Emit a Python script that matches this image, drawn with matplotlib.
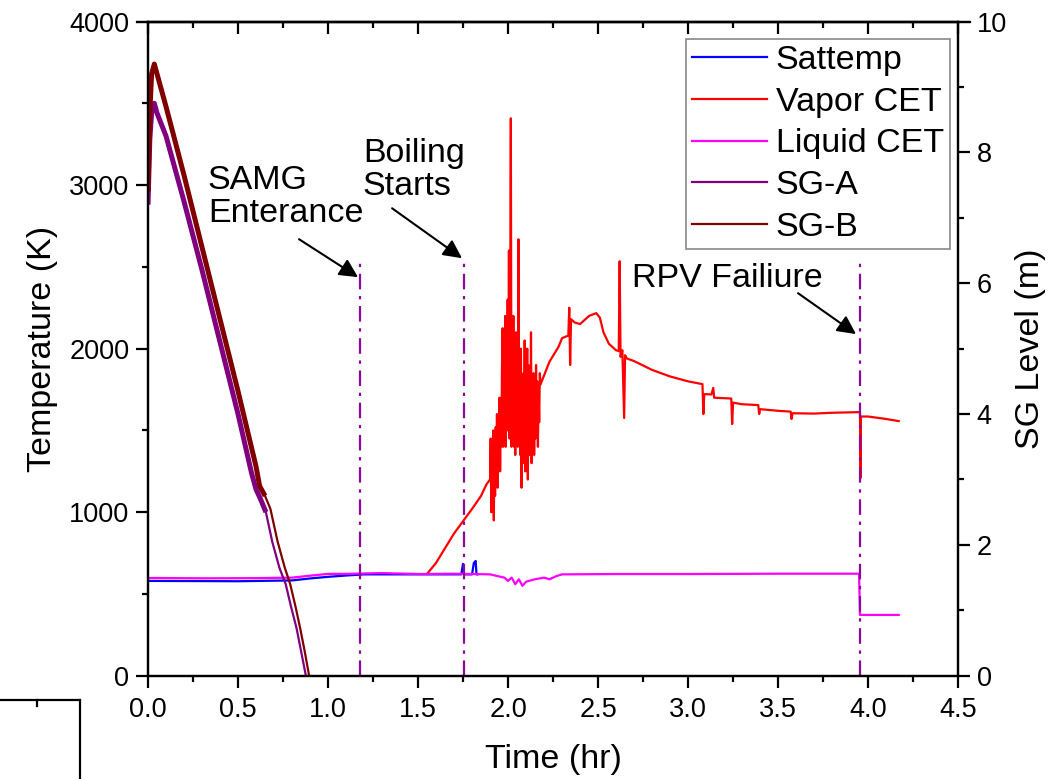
import matplotlib
matplotlib.use("Agg")
import matplotlib.pyplot as plt
import numpy as np
from matplotlib.lines import Line2D
from matplotlib.ticker import MultipleLocator

plt.rcParams["font.family"] = ["Liberation Sans", "DejaVu Sans"]

# ── data ────────────────────────────────────────────────────────────────────
# Sattemp (K)
sat_t = [0.0, 0.3, 0.5, 0.8, 0.9, 1.0, 1.1, 1.2, 1.5, 1.74, 1.75, 1.755,
         1.80, 1.81, 1.82, 1.825, 1.83]
sat_T = [580, 579, 578, 583, 595, 605, 613, 620, 620, 620, 684, 620,
         620, 690, 702, 620, 620]

# Vapor CET (K): heat-up, noisy boiling burst, slow decay
vap_rise_t = [1.55, 1.60, 1.65, 1.70, 1.76, 1.80, 1.85, 1.88]
vap_rise_T = [623, 690, 780, 870, 960, 1020, 1100, 1170]

vap_burst_t = np.arange(81) * 0.0035 + 1.90
vap_burst_T = [1200, 1450, 1000, 1400, 1300, 1500, 950, 1450, 1100, 1520,
               1250, 1600, 1150, 1500, 1300, 1700, 1250, 1650, 1400, 1900,
               2125, 1400, 1900, 1500, 2200, 1400, 2100, 1500, 2300, 1600,
               2600, 1450, 2200, 3408, 1400, 2000, 1500, 2200, 1400, 1900,
               1350, 2100, 1500, 1800, 1400, 2669, 1500, 1900, 1350, 2000,
               1150, 1750, 1300, 1850, 1500, 2050, 1250, 1950, 1400, 2000,
               1200, 1900, 1350, 1800, 1450, 2100, 1300, 1750, 1500, 1850,
               1350, 1700, 1450, 1900, 1500, 1800, 1400, 1750, 1550, 1850,
               1780]

vap_tail_t = [2.23, 2.28, 2.30, 2.335, 2.34, 2.345, 2.35, 2.37, 2.40, 2.45,
              2.49, 2.51, 2.53, 2.56, 2.60, 2.615, 2.62, 2.625, 2.635, 2.645,
              2.65, 2.66, 2.70, 2.80, 2.90, 3.00, 3.08, 3.085, 3.09, 3.13,
              3.14, 3.145, 3.24, 3.245, 3.25, 3.30, 3.39, 3.395, 3.40, 3.50,
              3.57, 3.575, 3.58, 3.70, 3.80, 3.955, 3.958, 3.96, 4.00, 4.10,
              4.17]
vap_tail_T = [1920, 2010, 2064, 2080, 2250, 1900, 2180, 2160, 2150, 2200,
              2217, 2190, 2100, 2030, 1990, 1985, 2534, 1950, 1990, 1576,
              1960, 1940, 1924, 1870, 1830, 1800, 1783, 1600, 1722, 1720,
              1760, 1700, 1695, 1539, 1670, 1660, 1655, 1600, 1630, 1620,
              1615, 1570, 1605, 1603, 1608, 1612, 1209, 1585, 1585, 1570,
              1557]

# Liquid CET (K)
liq_t = [0.0, 0.3, 0.6, 0.8, 0.9, 1.0, 1.1, 1.3, 1.5, 1.7, 1.9, 1.98, 2.0,
         2.02, 2.04, 2.06, 2.08, 2.10, 2.15, 2.20, 2.23, 2.27, 2.30, 2.6,
         3.0, 3.5, 3.95, 3.955, 4.17]
liq_T = [598, 596, 597, 600, 612, 623, 623, 628, 622, 624, 620, 600, 580,
         600, 560, 590, 550, 575, 590, 600, 590, 610, 620, 622,
         622, 624, 624, 372, 372]

# SG levels (m)
sga_t = [0.0, 0.01, 0.02, 0.035, 0.05, 0.1, 0.2, 0.3, 0.4, 0.5, 0.575, 0.6,
         0.625, 0.655, 0.69, 0.73, 0.765, 0.795, 0.825, 0.85, 0.877]
sga_L = [7.2, 8.2, 8.6, 8.75, 8.6, 8.25, 7.25, 6.2, 5.1, 4.0, 3.1, 2.85,
         2.7, 2.5, 2.05, 1.65, 1.40, 1.05, 0.73, 0.38, 0.0]
sgb_t = [0.0, 0.01, 0.02, 0.035, 0.05, 0.1, 0.2, 0.3, 0.4, 0.5, 0.6, 0.62,
         0.65, 0.68, 0.72, 0.76, 0.79, 0.82, 0.845, 0.87, 0.895]
sgb_L = [7.4, 8.6, 9.2, 9.35, 9.2, 8.7, 7.65, 6.55, 5.45, 4.35, 3.2, 2.9,
         2.75, 2.55, 2.05, 1.65, 1.40, 1.05, 0.73, 0.38, 0.0]
sg_osc_end = 0.66   # level oscillates heavily (thick band) up to here

# event markers
events = [1.178, 1.756, 3.956]
event_top = 2550
labels = ["SAMG\nEnterance", "Boiling\nStarts", "RPV Failiure"]
label_xy = [(0.333, 3125), (1.194, 3290), (2.689, 2525)]
arrow_tail = [(0.839, 2669), (1.356, 2858), (3.611, 2339)]
arrow_head = [(1.167, 2437), (1.744, 2553), (3.933, 2089)]

# ── figure ──────────────────────────────────────────────────────────────────
fig = plt.figure(figsize=(10.61, 7.79), dpi=100)
ax = fig.add_axes([0.1395, 0.1325, 0.7635, 0.8399])
ax2 = ax.twinx()

FS = 24.5
lw = 1.6
vap_t = list(vap_rise_t) + list(vap_burst_t) + vap_tail_t
vap_T = vap_rise_T + vap_burst_T + vap_tail_T
ax.plot(sat_t, sat_T, color="#0000FF", lw=lw, label="Sattemp")
ax.plot(vap_t, vap_T, color="#FF0000", lw=lw, label="Vapor CET")
ax.plot(liq_t, liq_T, color="#FF00FF", lw=lw, label="Liquid CET")

for t, L, c, name in ((sga_t, sga_L, "#800080", "SG-A"),
                      (sgb_t, sgb_L, "#800000", "SG-B")):
    k = max(i for i, v in enumerate(t) if v <= sg_osc_end)
    ax2.plot(t[:k + 1], L[:k + 1], color=c, lw=3.6, solid_capstyle="butt")
    ax2.plot(t[k:], L[k:], color=c, lw=lw, label=name)

for x in events:
    ax.plot([x, x], [0, event_top], color="#8A0A9A", lw=1.6,
            linestyle=(0, (7, 3, 1.5, 3)))

for txt, xy, tail, head in zip(labels, label_xy, arrow_tail, arrow_head):
    ax.text(xy[0], xy[1], txt, fontsize=FS, va="top", ha="left",
            linespacing=1.1)
    ax.annotate("", xy=head, xytext=tail,
                arrowprops=dict(arrowstyle="-|>", color="black", lw=1.5,
                                mutation_scale=28, shrinkA=0, shrinkB=0))

ax.set_xlim(0, 4.5)
ax.set_ylim(0, 4000)
ax2.set_ylim(0, 10)
ax.xaxis.set_major_locator(MultipleLocator(0.5))
ax.xaxis.set_minor_locator(MultipleLocator(0.25))
ax.yaxis.set_major_locator(MultipleLocator(1000))
ax.yaxis.set_minor_locator(MultipleLocator(500))
ax2.yaxis.set_major_locator(MultipleLocator(2))
ax2.yaxis.set_minor_locator(MultipleLocator(1))
ax.xaxis.set_major_formatter(lambda v, p: f"{v:.1f}")

for a in (ax, ax2):
    for s in a.spines.values():
        s.set_linewidth(1.6)
    a.tick_params(which="major", direction="out", length=8.5, width=1.6,
                  labelsize=19.5, pad=5)
    a.tick_params(which="minor", direction="out", length=4, width=1.6)
ax.tick_params(axis="x", pad=7)

top = ax.secondary_xaxis("top")
top.xaxis.set_major_locator(MultipleLocator(0.5))
top.xaxis.set_minor_locator(MultipleLocator(0.25))
top.tick_params(which="major", direction="in", length=8.5, width=1.6,
                labeltop=False)
top.tick_params(which="minor", direction="in", length=4, width=1.6)
top.spines["top"].set_linewidth(1.6)

ax.set_xlabel("Time (hr)", fontsize=FS, labelpad=15)
ax.set_ylabel("Temperature (K)", fontsize=FS, labelpad=8)
ax2.set_ylabel("SG Level (m)", fontsize=FS, labelpad=6)

h1, l1 = ax.get_legend_handles_labels()
h2, l2 = ax2.get_legend_handles_labels()
leg = ax2.legend(h1 + h2, l1 + l2, loc="upper right",
                 bbox_to_anchor=(0.990, 0.974), borderaxespad=0,
                 fontsize=FS, handlelength=2.2, handletextpad=0.25,
                 labelspacing=0.32, borderpad=0.18, fancybox=False,
                 edgecolor="#888888", framealpha=1)
leg.get_frame().set_linewidth(1.2)

# stray frame fragment in the bottom-left corner and top spine overhang
H = 779.0
W = 1061.0
frag = dict(color="black", lw=1.6, transform=fig.transFigure)
fig.add_artist(Line2D([0, 80 / W], [1 - 700 / H, 1 - 700 / H], **frag))
fig.add_artist(Line2D([80 / W, 80 / W], [1 - 700 / H, 0], **frag))
fig.add_artist(Line2D([37 / W, 37 / W], [1 - 700 / H, 1 - 706 / H], **frag))
ytop = 0.1325 + 0.8399
fig.add_artist(Line2D([137 / W, 970 / W], [ytop, ytop], **frag))

fig.savefig("out.png", dpi=100, facecolor="white")
